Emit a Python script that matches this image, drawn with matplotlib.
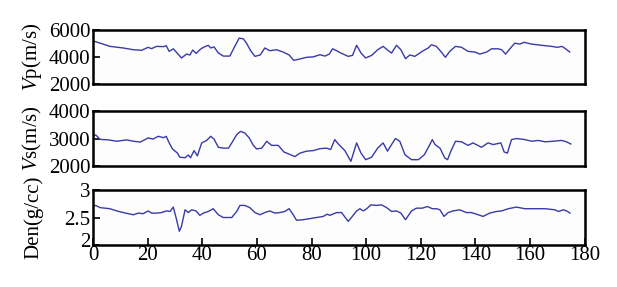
import matplotlib
matplotlib.use('Agg')
import matplotlib.pyplot as plt
import matplotlib.transforms as mtransforms

plt.rcParams['font.family'] = 'Liberation Serif'
plt.rcParams['mathtext.fontset'] = 'custom'
plt.rcParams['mathtext.rm'] = 'Liberation Serif'
plt.rcParams['mathtext.it'] = 'Liberation Serif:italic'

# Vp (m/s)
vp_x = [0, 2.6, 6.2, 11.1, 14.8, 17.8, 20.2, 21.4, 23.3, 25.8,
        26.8, 27.9, 29.4, 30.8, 32.4, 34.3, 35.5, 36.5, 37.8, 39.1,
        40.4, 42.2, 43.1, 44.3, 45.9, 47.7, 50.1, 51.6, 53.5, 55.0,
        56.2, 57.7, 59.3, 61.2, 62.9, 64.7, 67.2, 69.6, 71.8, 73.5,
        75.8, 78.2, 80.6, 83.1, 84.9, 86.5, 87.7,
        89.2, 90.4, 93.4, 95.0, 96.5, 98.1, 99.8, 102.0, 104.2, 106.2,
        108.1, 109.3, 111.1, 112.7, 114.4, 116.0, 117.8, 120.9, 122.7, 123.9,
        125.7, 127.3, 129.0, 130.6, 132.7, 134.9, 137.3, 139.8, 141.6, 144.1,
        145.9, 148.3, 149.6, 151.0, 152.6, 154.4, 156.2, 157.8, 160.5, 164.2,
        167.8, 170.0, 171.7, 173.0, 174.5]
vp = [5200, 5030, 4790, 4670, 4540, 4500, 4720, 4620, 4790, 4770,
      4840, 4420, 4610, 4300, 3930, 4220, 4150, 4520, 4270, 4540,
      4720, 4870, 4670, 4750, 4300, 4070, 4070, 4670, 5400, 5350,
      5030, 4470, 4050, 4150, 4670, 4470, 4540, 4370, 4150, 3750,
      3860, 3980, 4010, 4170, 4070, 4220, 4610,
      4470, 4330, 4050, 4120, 4870, 4300, 3930, 4120, 4540, 4790,
      4470, 4300, 4870, 4540, 3880, 4150, 4050, 4470, 4670, 4910,
      4790, 4420, 3980, 4420, 4790, 4720, 4420, 4370, 4220, 4370,
      4610, 4610, 4540, 4220, 4610, 5030, 4960, 5090, 4960, 4870,
      4790, 4720, 4790, 4610, 4370]

# Vs (m/s)
vs_x = [0, 1, 2.6, 5.6, 8.7, 12.3, 14.8, 17.3, 20.2, 22,
        23.9, 25.8, 26.8, 27.9, 29.1, 30.8, 31.8, 33.7, 34.9, 35.7,
        37, 38.2, 39.8, 41.6, 43.1, 44.3, 45.9, 47.7, 49.6, 50.8,
        52.6, 54, 55.6, 57.2, 58.7, 59.9, 61.8, 63.6, 65.4, 67.8,
        69.9, 72.1, 73.9, 75.8, 78.2, 80.6, 83.1, 85.5, 87, 88.5,
        89.8,
        92.2, 94.4, 96.5, 98.1, 99.8, 102, 104.2, 106.2, 107.8, 109.3,
        110.7, 112.3, 114.2, 116.6, 119.1, 121.3, 123.3, 124.2, 125.2, 127,
        128.8, 129.8, 131, 132.7, 134.9, 137.3, 139.1, 142.2, 144.6, 146.5,
        149.3, 150.5, 151.7, 153.2, 155.1, 158.1, 160.6, 163, 165.5, 168.5,
        171.5, 173.3, 174.9]
vs = [3080, 3130, 2970, 2950, 2900, 2950, 2900, 2870, 3020, 2980,
      3080, 3030, 3080, 2840, 2620, 2480, 2320, 2300, 2400, 2300,
      2560, 2370, 2840, 2930, 3080, 2980, 2680, 2650, 2650, 2840,
      3140, 3260, 3200, 3020, 2750, 2620, 2650, 2900, 2750, 2750,
      2510, 2420, 2340, 2470, 2540, 2560, 2630, 2650, 2600, 2960,
      2800,
      2560, 2170, 2840, 2470, 2230, 2320, 2650, 2840, 2540, 2780,
      3000, 2900, 2410, 2230, 2230, 2410, 2780, 2960, 2780, 2650,
      2290, 2230, 2540, 2900, 2880, 2750, 2840, 2680, 2840, 2780,
      2840, 2510, 2470, 2960, 3000, 2960, 2900, 2930, 2880, 2900,
      2930, 2880, 2800]

# Density (g/cc)
den_x = [0, 1, 2.6, 6.2, 8.7, 11.1, 14.8, 16.6, 18.4, 20.2,
         21.4, 23.3, 25.1, 26.9, 28.2, 29.4, 30.4, 31.6, 32.4, 33.7,
         34.9, 36.1, 37.7, 39.1, 40.4, 42.2, 44, 45.9, 47.7, 50.8,
         52.6, 53.8, 55.6, 57.4, 59.3, 61.1, 62.9, 64.7, 66.6, 68.4,
         70.2, 71.8, 73.3, 74.5, 76.9, 79.4, 81.8, 84.3, 85.7, 86.7,
         89.2,
         91, 93.4, 94.6, 96.5, 97.7, 98.9, 100.2, 101.7, 103.8, 105.6,
         107.5, 109.3, 111.1, 112.7, 114.4, 116.6, 118.4, 120.5, 122.4, 124.2,
         125.8, 127, 128.5, 130, 131.8, 134.2, 136.7, 138.5, 140.4, 142.8,
         145.2, 147.7, 149.6, 152, 155, 158.1, 161.8, 165.5, 169.1, 170.4,
         172.2, 173.4, 174.6]
den = [2.70, 2.72, 2.68, 2.66, 2.62, 2.59, 2.55, 2.58, 2.57, 2.62,
       2.58, 2.58, 2.59, 2.62, 2.61, 2.69, 2.50, 2.25, 2.34, 2.64,
       2.59, 2.64, 2.62, 2.54, 2.58, 2.61, 2.66, 2.55, 2.50, 2.50,
       2.61, 2.72, 2.72, 2.68, 2.59, 2.55, 2.59, 2.62, 2.58, 2.59,
       2.61, 2.66, 2.55, 2.45, 2.46, 2.48, 2.50, 2.52, 2.56, 2.54,
       2.59,
       2.59, 2.43, 2.50, 2.62, 2.66, 2.62, 2.66, 2.73, 2.72, 2.73,
       2.68, 2.61, 2.62, 2.58, 2.46, 2.62, 2.67, 2.67, 2.70, 2.66,
       2.66, 2.64, 2.52, 2.59, 2.62, 2.64, 2.59, 2.59, 2.56, 2.52,
       2.58, 2.61, 2.62, 2.66, 2.69, 2.66, 2.66, 2.66, 2.64, 2.61,
       2.64, 2.62, 2.58]

line_color = '#3a3aaa'

fig = plt.figure(figsize=(6.17, 2.87), dpi=100)
left, width = 0.1507, 0.797
ax1 = fig.add_axes([left, 0.7073, width, 0.188])
ax2 = fig.add_axes([left, 0.4216, width, 0.1916])
ax3 = fig.add_axes([left, 0.1463, width, 0.1916])

panels = [
    (ax1, vp_x, vp, (2000, 6000), [2000, 4000, 6000], ['2000', '4000', '6000'], r'$\mathit{V}$p(m/s)'),
    (ax2, vs_x, vs, (2000, 4000), [2000, 3000, 4000], ['2000', '3000', '4000'], r'$\mathit{V}$s(m/s)'),
    (ax3, den_x, den, (2, 3), [2, 2.5, 3], ['2', '2.5', '3'], 'Den(g/cc)'),
]

for ax, x, y, ylim, yt, ytl, lab in panels:
    ax.plot(x, y, color=line_color, linewidth=1.0)
    ax.set_xlim(0, 180)
    ax.set_ylim(*ylim)
    ax.set_yticks(yt)
    ax.set_yticklabels(ytl)
    ax.tick_params(axis='y', direction='in', length=5, width=1.2, labelsize=15, pad=2,
                   right=False)
    ax.set_ylabel(lab, fontsize=15)
    ax.yaxis.set_label_coords(-0.1, 0.5)
    for sp in ax.spines.values():
        sp.set_linewidth(1.8)
        sp.set_color('black')
    ax.set_facecolor('#fdfdfd')

for ax in (ax1, ax2):
    ax.set_xticks([])

ax3.set_xticks(range(0, 181, 20))
ax3.tick_params(axis='x', direction='in', length=5, width=1.2, labelsize=15, pad=1,
                top=False)

# lift the bottom "2" a little so it clears the "0" below it
lift = mtransforms.ScaledTranslation(0, 0.05, fig.dpi_scale_trans)
lbl = ax3.get_yticklabels()[0]
lbl.set_transform(lbl.get_transform() + lift)

fig.savefig('out.png', dpi=100)
